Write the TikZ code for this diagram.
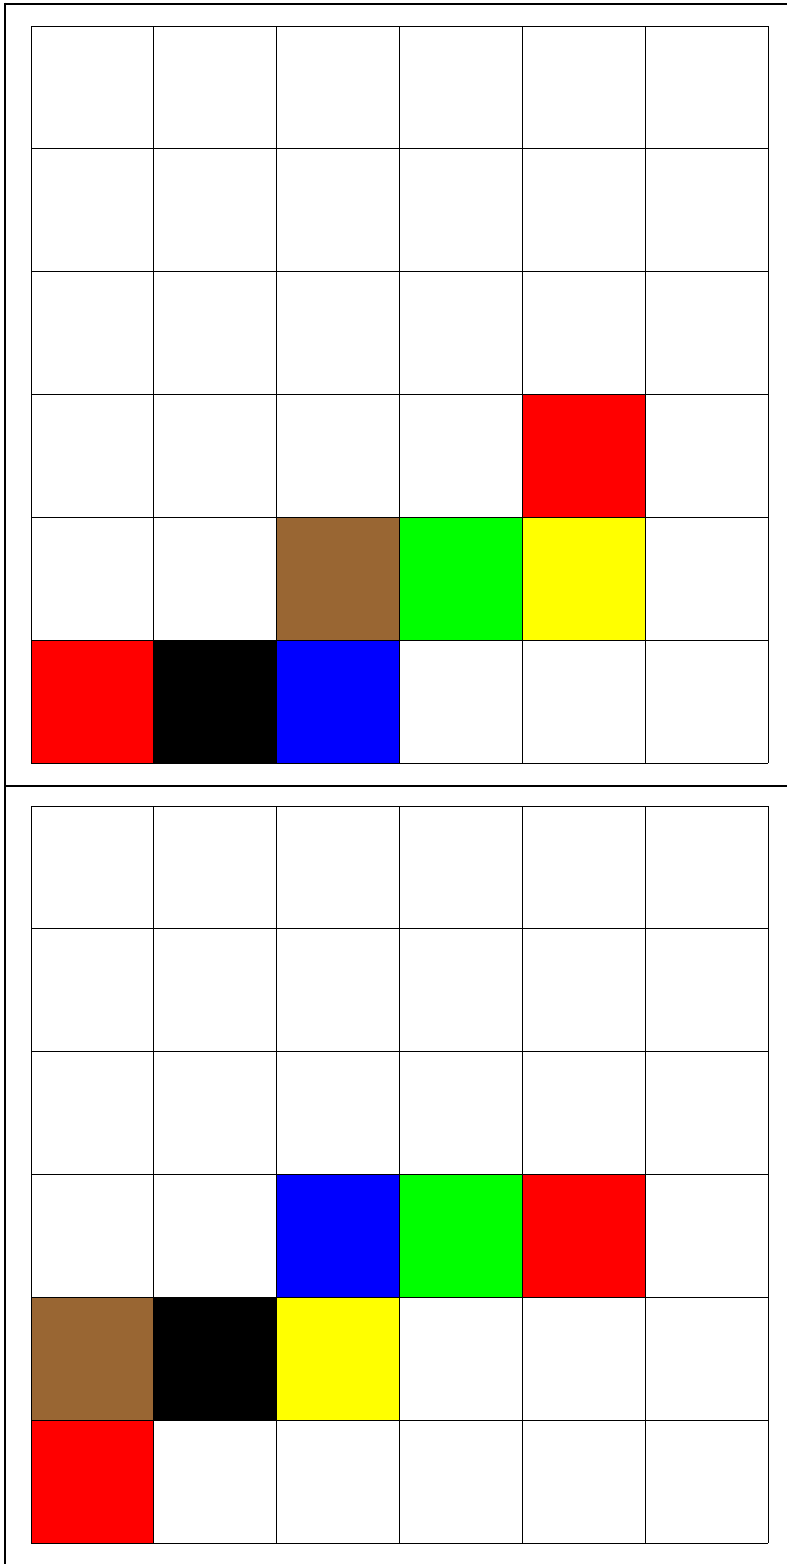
\documentclass[tikz,border=0pt]{standalone}
\definecolor{cred}{RGB}{255,0,0}
\definecolor{cgreen}{RGB}{0,255,0}
\definecolor{cblue}{RGB}{0,0,255}
\definecolor{cyellow}{RGB}{255,255,0}
\definecolor{cbrown}{RGB}{153,102,51}
\tikzset{
  cellbox/.style={draw=black, line width=0.8pt},
  framerule/.style={draw=black, line width=2.8pt}
}
\begin{document}
\begin{tikzpicture}[x=1pt,y=-1pt]
\useasboundingbox (0,0) rectangle (787,1564);
\fill[white] (0,0) rectangle (787,1564);
% frame
\draw[framerule] (5,4) -- (787,4);
\draw[framerule] (5,2.6) -- (5,1564);
\draw[framerule] (5,786) -- (787,786);
\def\cs{122.833}
\foreach \c/\r/\col in {4/3/cred, 2/4/cbrown, 3/4/cgreen, 4/4/cyellow, 0/5/cred, 1/5/black, 2/5/cblue}{
  \fill[\col] (31+\c*\cs, 26+\r*\cs) rectangle ++(\cs,\cs);
}
\foreach \c/\r/\col in {2/3/cblue, 3/3/cgreen, 4/3/cred, 0/4/cbrown, 1/4/black, 2/4/cyellow, 0/5/cred}{
  \fill[\col] (31+\c*\cs, 806+\r*\cs) rectangle ++(\cs,\cs);
}
\foreach \y in {26,806}{
  \foreach \i in {0,...,6}{
    \draw[cellbox] (31+\i*\cs, \y) -- (31+\i*\cs, \y+6*\cs);
    \draw[cellbox] (31, \y+\i*\cs) -- (31+6*\cs, \y+\i*\cs);
  }
}
\end{tikzpicture}
\end{document}
